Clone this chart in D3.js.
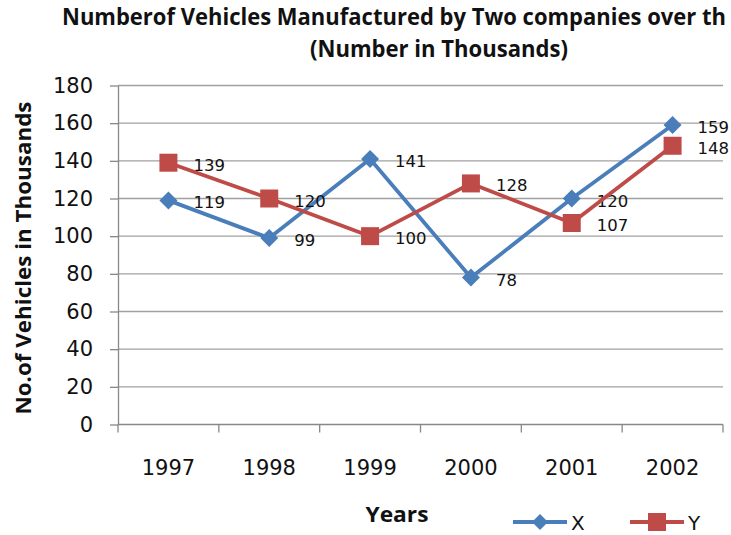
<!DOCTYPE html>
<html>
<head>
<meta charset="utf-8">
<script src="https://cdn.jsdelivr.net/npm/d3@7"></script>
<style>
  html, body { margin: 0; padding: 0; background: #fff; }
  svg { display: block; }
</style>
</head>
<body>
<div id="chart"></div>
<script>
// Vehicles manufactured by two companies, in thousands
const years = ["1997", "1998", "1999", "2000", "2001", "2002"];
const seriesX = [119, 99, 141, 78, 120, 159];
const seriesY = [139, 120, 100, 128, 107, 148];
const yTicks = [0, 20, 40, 60, 80, 100, 120, 140, 160, 180];

const W = 731, H = 535;
const plot = { left: 118, right: 723, top: 85.5, bottom: 424.5 };
const blue = "#4A7EBB", red = "#BE4B48";
const gridColor = "#A0A0A0", axisColor = "#888888";
const numFont = "'DejaVu Sans', sans-serif";
const boldFont = "'Liberation Sans Narrow', 'Open Sans', sans-serif";

const svg = d3.select("#chart").append("svg")
  .attr("width", W).attr("height", H);

const x = d3.scaleBand().domain(years).range([plot.left, plot.right]);
const y = d3.scaleLinear().domain([0, 180]).range([plot.bottom, plot.top]);
const cx = d => x(d) + x.bandwidth() / 2;

// Title
svg.append("text")
  .attr("x", 62).attr("y", 25)
  .attr("font-family", boldFont).attr("font-weight", "bold").attr("font-size", 23)
  .attr("textLength", 664).attr("lengthAdjust", "spacingAndGlyphs")
  .attr("fill", "#111")
  .text("Numberof Vehicles Manufactured by Two companies over th");
svg.append("text")
  .attr("x", 310).attr("y", 57)
  .attr("font-family", boldFont).attr("font-weight", "bold").attr("font-size", 23)
  .attr("textLength", 258).attr("lengthAdjust", "spacingAndGlyphs")
  .attr("fill", "#111")
  .text("(Number in Thousands)");

// Horizontal gridlines
svg.append("g").selectAll("line")
  .data(yTicks.filter(t => t > 0))
  .join("line")
  .attr("x1", plot.left).attr("x2", plot.right)
  .attr("y1", d => y(d)).attr("y2", d => y(d))
  .attr("stroke", gridColor).attr("stroke-width", 1.3);

// Y axis
const yAxis = svg.append("g")
  .attr("transform", `translate(${plot.left},0)`)
  .call(d3.axisLeft(y).tickValues(yTicks).tickSize(8).tickPadding(17).tickSizeOuter(0));
yAxis.select(".domain").attr("stroke", axisColor).attr("stroke-width", 1.3);
yAxis.selectAll(".tick line").attr("stroke", axisColor).attr("stroke-width", 1.3);
yAxis.selectAll(".tick text")
  .attr("font-family", numFont).attr("font-size", 21).attr("fill", "#111");

// X axis with ticks on the category boundaries
const xAxisG = svg.append("g").attr("transform", `translate(0,${plot.bottom})`);
xAxisG.append("line")
  .attr("x1", plot.left).attr("x2", plot.right)
  .attr("stroke", axisColor).attr("stroke-width", 1.3);
const boundaries = years.map(d => x(d)).concat([plot.right]);
xAxisG.selectAll("line.tk").data(boundaries).join("line").attr("class", "tk")
  .attr("x1", d => d).attr("x2", d => d).attr("y1", 0).attr("y2", 8)
  .attr("stroke", axisColor).attr("stroke-width", 1.3);
xAxisG.selectAll("text").data(years).join("text")
  .attr("x", d => cx(d)).attr("y", 50)
  .attr("text-anchor", "middle")
  .attr("font-family", numFont).attr("font-size", 21).attr("fill", "#111")
  .text(d => d);

// Axis titles
svg.append("text")
  .attr("transform", `translate(31,258) rotate(-90)`)
  .attr("text-anchor", "middle")
  .attr("font-family", boldFont).attr("font-weight", "bold").attr("font-size", 22)
  .attr("textLength", 313).attr("lengthAdjust", "spacingAndGlyphs")
  .attr("fill", "#111")
  .text("No.of Vehicles in Thousands");
svg.append("text")
  .attr("x", 397).attr("y", 522)
  .attr("text-anchor", "middle")
  .attr("font-family", boldFont).attr("font-weight", "bold").attr("font-size", 22)
  .attr("textLength", 63).attr("lengthAdjust", "spacingAndGlyphs")
  .attr("fill", "#111")
  .text("Years");

// Series
const line = d3.line().x((d, i) => cx(years[i])).y(d => y(d));
const diamond = s => `M0,${-s}L${s},0L0,${s}L${-s},0Z`;

function drawSeries(values, color, marker) {
  const g = svg.append("g");
  g.append("path").datum(values)
    .attr("d", line)
    .attr("fill", "none").attr("stroke", color)
    .attr("stroke-width", 3.8).attr("stroke-linejoin", "round");
  g.selectAll("path.m").data(values).join("path").attr("class", "m")
    .attr("transform", (d, i) => `translate(${cx(years[i])},${y(d)})`)
    .attr("d", marker)
    .attr("fill", color);
  g.selectAll("text").data(values).join("text")
    .attr("x", (d, i) => cx(years[i]) + 25)
    .attr("y", d => y(d) + 8)
    .attr("font-family", numFont).attr("font-size", 16.5).attr("fill", "#111")
    .text(d => d);
}
drawSeries(seriesX, blue, diamond(9));
drawSeries(seriesY, red, d3.symbol(d3.symbolSquare, 18 * 18)());

// Legend
const legend = [
  { name: "X", color: blue, marker: diamond(8), x0: 513 },
  { name: "Y", color: red, marker: d3.symbol(d3.symbolSquare, 18 * 18)(), x0: 630 }
];
const lg = svg.append("g");
legend.forEach(l => {
  lg.append("line")
    .attr("x1", l.x0).attr("x2", l.x0 + 54).attr("y1", 522).attr("y2", 522)
    .attr("stroke", l.color).attr("stroke-width", 3.8);
  lg.append("path")
    .attr("transform", `translate(${l.x0 + 27},522)`)
    .attr("d", l.marker).attr("fill", l.color);
  lg.append("text")
    .attr("x", l.x0 + 58).attr("y", 529.5)
    .attr("font-family", numFont).attr("font-size", 20).attr("fill", "#111")
    .text(l.name);
});
</script>
</body>
</html>
